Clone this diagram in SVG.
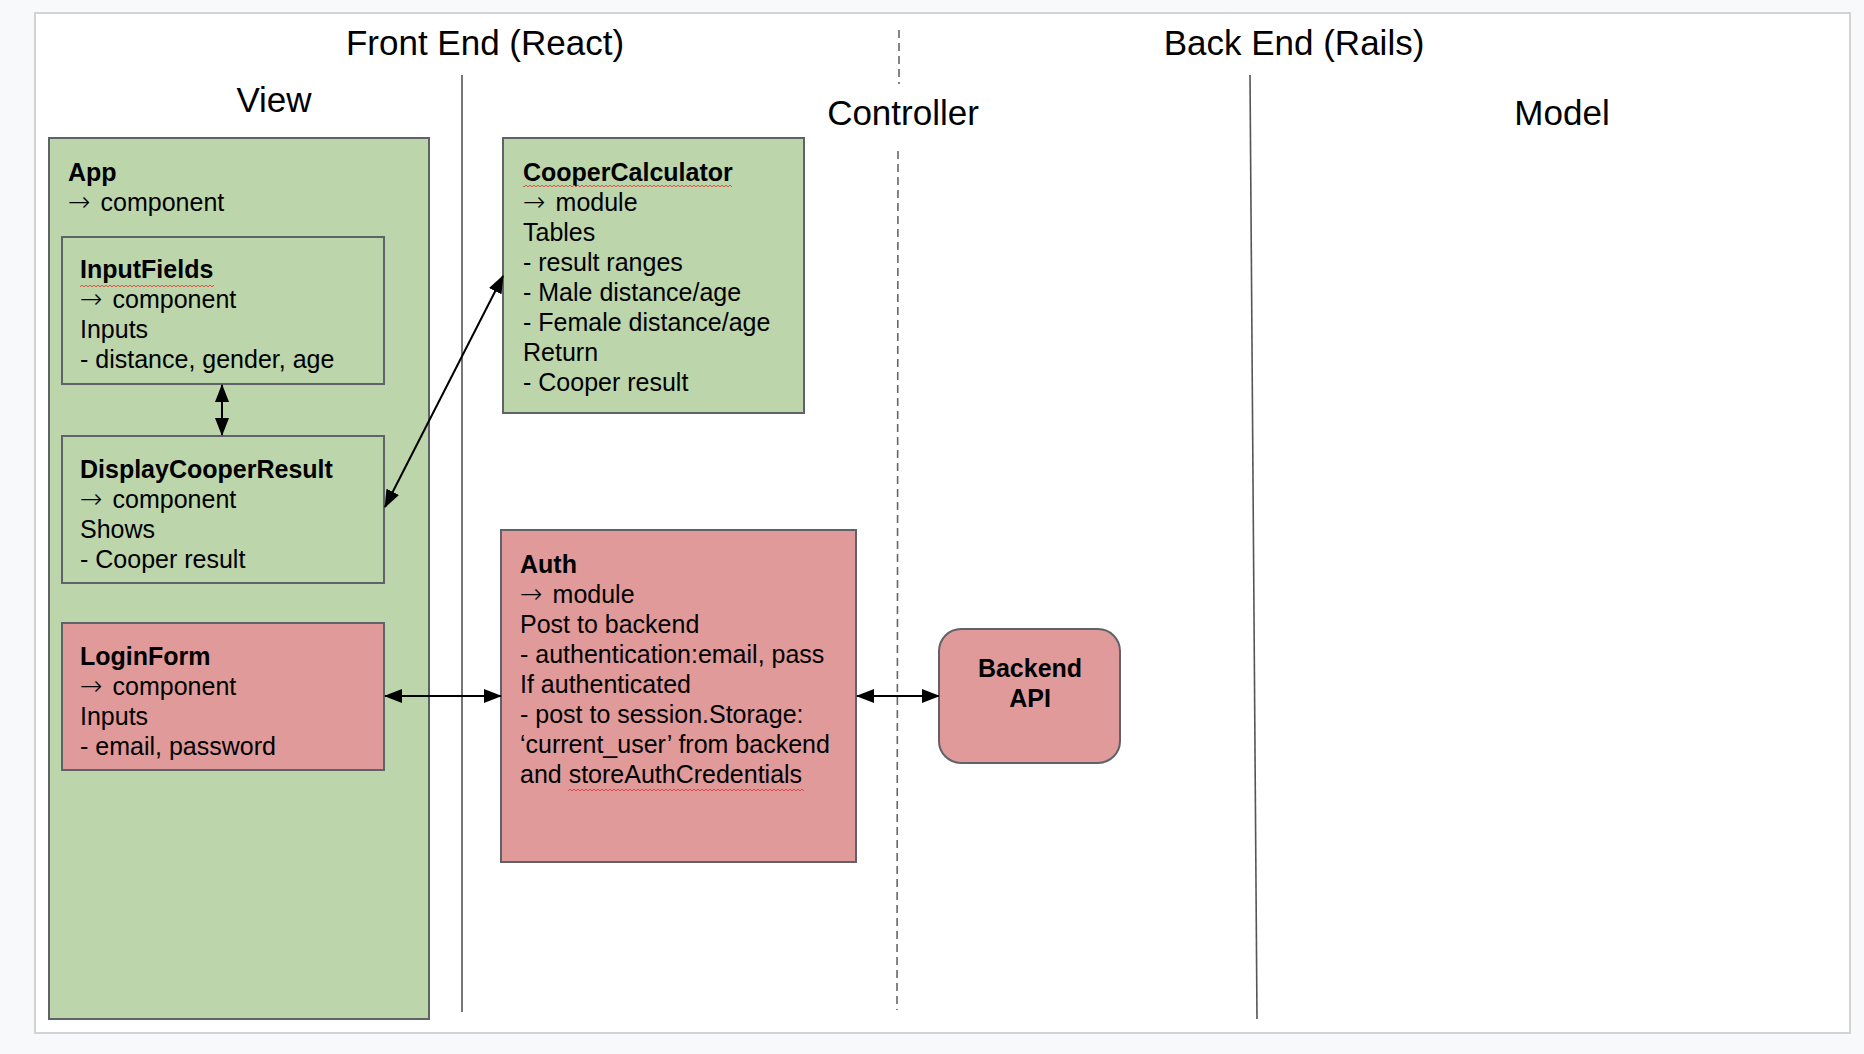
<svg xmlns="http://www.w3.org/2000/svg" width="1864" height="1054" viewBox="0 0 1864 1054">
<defs>
<style>
.title{font-family:"Liberation Sans",Arial,sans-serif;font-size:35px;fill:#000;text-anchor:middle}
.body{font-family:"Liberation Sans",Arial,sans-serif;font-size:25px;fill:#000}
.b{font-weight:bold}
.ar{font-family:"DejaVu Sans",sans-serif;font-size:27px;font-weight:200}
.green{fill:#bcd5ab;stroke:#5f6368;stroke-width:2}
.pink{fill:#e09a9a;stroke:#5f6368;stroke-width:2}
.conn{stroke:#000;stroke-width:2;fill:none}
.sep{stroke:#555;stroke-width:1.6;fill:none}
.dash{stroke:#666;stroke-width:1.6;stroke-dasharray:8 5;fill:none}
.squig{fill:url(#wave)}
</style>
<marker id="ah" viewBox="0 0 18 14" refX="17" refY="7" markerWidth="18" markerHeight="14" markerUnits="userSpaceOnUse" orient="auto-start-reverse">
<path d="M0,0 L18,7 L0,14 Z" fill="#000"/>
</marker>
<pattern id="wave" width="4" height="4" patternUnits="userSpaceOnUse">
<path d="M0,3 L2,1 L4,3" stroke="#e0403a" stroke-width="0.9" fill="none"/>
</pattern>
</defs>
<rect x="0" y="0" width="1864" height="1054" fill="#f8f9fa"/>
<rect x="35" y="13" width="1815" height="1020" fill="#fff" stroke="#d3d3d3" stroke-width="2"/>

<g id="lanes">
<text class="title" x="485" y="55">Front End (React)</text>
<text class="title" x="1294" y="55">Back End (Rails)</text>
<text class="title" x="274" y="112">View</text>
<text class="title" x="903" y="125">Controller</text>
<text class="title" x="1562" y="125">Model</text>
<line class="sep" x1="462" y1="75" x2="462" y2="1012"/>
<line class="sep" x1="1250" y1="75" x2="1257" y2="1019"/>
<line class="dash" x1="899" y1="30" x2="899" y2="84"/>
<line class="dash" x1="898" y1="151" x2="897" y2="1010"/>
</g>

<g id="app">
<rect class="green" x="49" y="138" width="380" height="881"/>
<text class="body" x="68" y="181"><tspan class="b">App</tspan><tspan x="68" dy="30" class="ar">→</tspan><tspan dx="3"> component</tspan></text>
</g>

<g id="inputfields">
<rect class="green" x="62" y="237" width="322" height="147"/>
<text class="body" x="80" y="278"><tspan class="b">InputFields</tspan><tspan x="80" dy="30" class="ar">→</tspan><tspan dx="3"> component</tspan><tspan x="80" dy="30">Inputs</tspan><tspan x="80" dy="30">- distance, gender, age</tspan></text>
<rect class="squig" x="80" y="283" width="134" height="4"/>
</g>

<g id="displaycooperresult">
<rect class="green" x="62" y="436" width="322" height="147"/>
<text class="body" x="80" y="478"><tspan class="b">DisplayCooperResult</tspan><tspan x="80" dy="30" class="ar">→</tspan><tspan dx="3"> component</tspan><tspan x="80" dy="30">Shows</tspan><tspan x="80" dy="30">- Cooper result</tspan></text>
</g>

<g id="loginform">
<rect class="pink" x="62" y="623" width="322" height="147"/>
<text class="body" x="80" y="665"><tspan class="b">LoginForm</tspan><tspan x="80" dy="30" class="ar">→</tspan><tspan dx="3"> component</tspan><tspan x="80" dy="30">Inputs</tspan><tspan x="80" dy="30">- email, password</tspan></text>
</g>

<g id="coopercalculator">
<rect class="green" x="503" y="138" width="301" height="275"/>
<text class="body" x="523" y="181"><tspan class="b">CooperCalculator</tspan><tspan x="523" dy="30" class="ar">→</tspan><tspan dx="3"> module</tspan><tspan x="523" dy="30">Tables</tspan><tspan x="523" dy="30">- result ranges</tspan><tspan x="523" dy="30">- Male distance/age</tspan><tspan x="523" dy="30">- Female distance/age</tspan><tspan x="523" dy="30">Return</tspan><tspan x="523" dy="30">- Cooper result</tspan></text>
<rect class="squig" x="523" y="185" width="209" height="4"/>
</g>

<g id="auth">
<rect class="pink" x="501" y="530" width="355" height="332"/>
<text class="body" x="520" y="573"><tspan class="b">Auth</tspan><tspan x="520" dy="30" class="ar">→</tspan><tspan dx="3"> module</tspan><tspan x="520" dy="30">Post to backend</tspan><tspan x="520" dy="30">- authentication:email, pass</tspan><tspan x="520" dy="30">If authenticated</tspan><tspan x="520" dy="30">- post to session.Storage:</tspan><tspan x="520" dy="30">‘current_user’ from backend</tspan><tspan x="520" dy="30">and storeAuthCredentials</tspan></text>
<rect class="squig" x="568" y="787" width="236" height="4"/>
</g>

<g id="backendapi">
<rect class="pink" x="939" y="629" width="181" height="134" rx="22" ry="22"/>
<text class="body b" x="1030" y="677" text-anchor="middle">Backend</text>
<text class="body b" x="1030" y="707" text-anchor="middle">API</text>
</g>

<g id="connectors">
<line class="conn" x1="222" y1="385" x2="222" y2="435" marker-start="url(#ah)" marker-end="url(#ah)"/>
<line class="conn" x1="385" y1="507" x2="503" y2="276" marker-start="url(#ah)" marker-end="url(#ah)"/>
<line class="conn" x1="385" y1="696" x2="501" y2="696" marker-start="url(#ah)" marker-end="url(#ah)"/>
<line class="conn" x1="857" y1="696" x2="939" y2="696" marker-start="url(#ah)" marker-end="url(#ah)"/>
</g>
</svg>
